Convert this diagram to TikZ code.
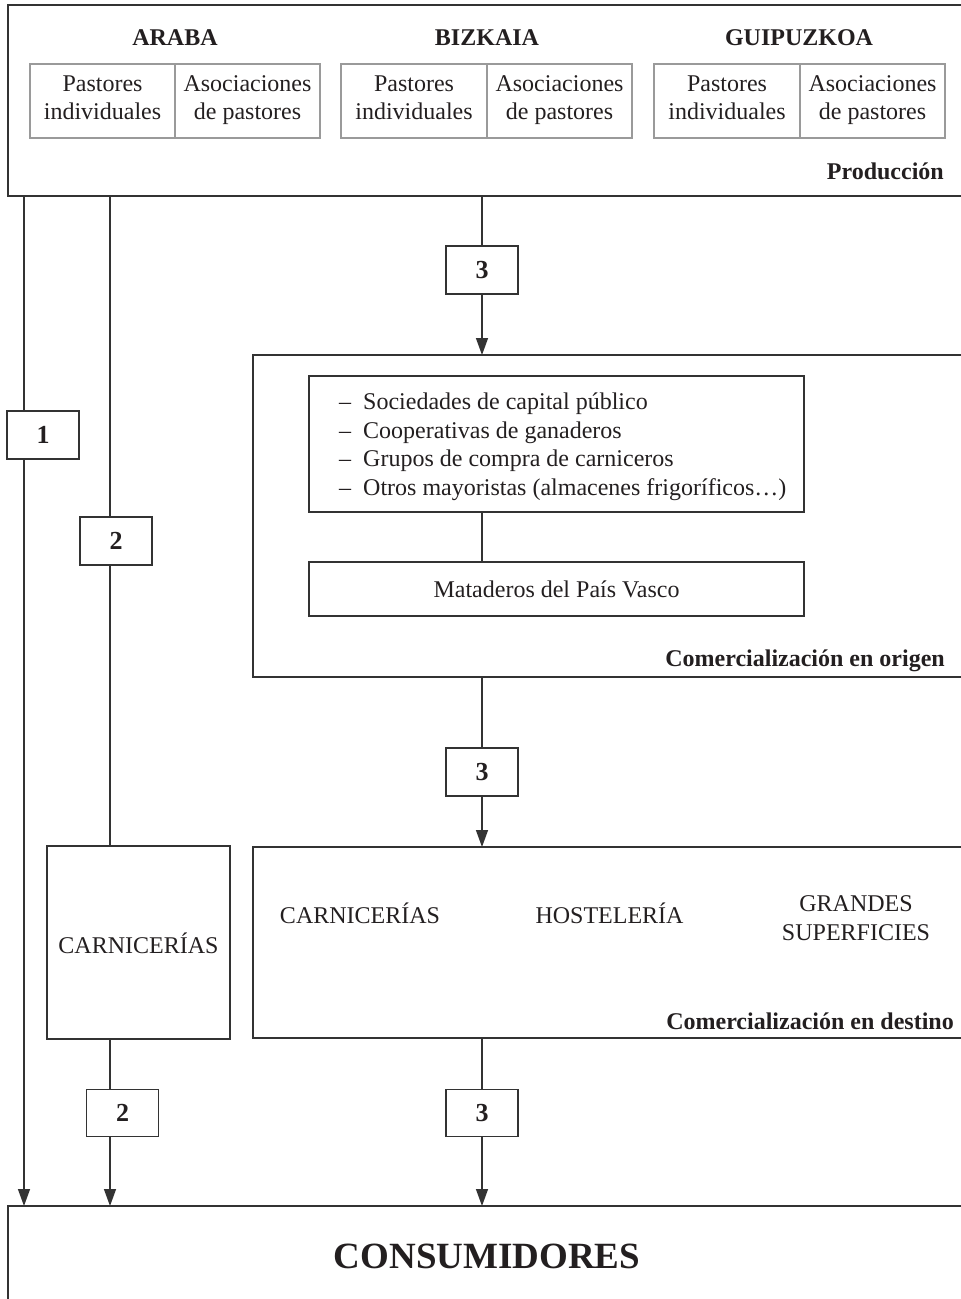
\documentclass[tikz,border=0pt]{standalone}
\usepackage{fontspec}
\setmainfont{Liberation Serif}
\usetikzlibrary{arrows.meta}
\definecolor{ink}{HTML}{231F20}
\definecolor{ln}{HTML}{333333}
\definecolor{lgray}{HTML}{9A9A9A}
\newcommand\myptop{\rule{0pt}{19pt}}
\newcommand\mypbot{\rule[-10.5pt]{0pt}{10.5pt}}
\newcommand\myltop{\rule{0pt}{20pt}}
\newcommand\mylbot{\rule[-8pt]{0pt}{8pt}}
\begin{document}
\begin{tikzpicture}[x=1pt,y=-1pt,
 txt/.style={font=\fontsize{24}{28.5}\selectfont, text=ink},
 btxt/.style={font=\fontsize{24}{28.5}\selectfont\bfseries, text=ink},
 lab/.style={btxt, anchor=east, inner sep=0pt},
 frame/.style={draw=ln, line width=1.4pt, inner sep=0pt, outer sep=0pt, anchor=north west},
 pbox/.style={draw=lgray, line width=1.1pt, inner sep=0pt, outer sep=0pt, minimum height=74pt, align=center, txt},
 nbox/.style={draw=ln, line width=1.4pt, minimum width=72pt, minimum height=48pt, inner sep=0pt, outer sep=0pt, font=\fontsize{26}{30}\selectfont\bfseries, text=ink},
 ibox/.style={draw=ln, line width=1.4pt, inner sep=0pt, outer sep=0pt, txt},
 conn/.style={draw=ln, line width=1.4pt},
 arr/.style={conn, -{Triangle[length=17pt,width=12pt]}}
]
\useasboundingbox (0,0) rectangle (961,1299);
\clip (0,0) rectangle (961,1299);

% Producción
\node[frame, minimum width=990pt, minimum height=191pt] (prod) at (8,5) {};
\node[btxt] (hA) at (175,38) {ARABA};
\node[btxt] (hB) at (487,38) {BIZKAIA};
\node[btxt] (hG) at (799,38) {GUIPUZKOA};
\node[pbox, minimum width=145pt] (a1) at (102.5,101) {\myptop Pastores\\individuales\mypbot};
\node[pbox, minimum width=145pt] (a2) at (247.5,101) {\myptop Asociaciones\\de pastores\mypbot};
\node[pbox, minimum width=146pt] (b1) at (414,101) {\myptop Pastores\\individuales\mypbot};
\node[pbox, minimum width=145pt] (b2) at (559.5,101) {\myptop Asociaciones\\de pastores\mypbot};
\node[pbox, minimum width=146pt] (g1) at (727,101) {\myptop Pastores\\individuales\mypbot};
\node[pbox, minimum width=145pt] (g2) at (872.5,101) {\myptop Asociaciones\\de pastores\mypbot};
\node[lab] (lprod) at (944,171) {Producción};

% Comercialización en origen
\node[frame, minimum width=740pt, minimum height=322pt] (orig) at (253,355) {};
\node[ibox, minimum width=495pt, minimum height=136pt] (list) at (556.5,444) {};
\node[txt, anchor=west, inner sep=0pt, align=left] (listt) at (339,446.5)
 {\myltop\makebox[24pt][l]{–}Sociedades de capital público\\
  \makebox[24pt][l]{–}Cooperativas de ganaderos\\
  \makebox[24pt][l]{–}Grupos de compra de carniceros\\
  \makebox[24pt][l]{–}Otros mayoristas (almacenes frigoríficos…)\mylbot};
\node[ibox, minimum width=495pt, minimum height=54pt] (mat) at (556.5,589) {Mataderos del País Vasco};
\node[lab] (lorig) at (945,661) {Comercialización en origen};

% Comercialización en destino
\node[frame, minimum width=740pt, minimum height=191pt] (dest) at (253,847) {};
\node[txt] (dc) at (360,913) {CARNICERÍAS};
\node[txt] (dh) at (609.5,913) {HOSTELERÍA};
\node[txt, align=center] (dg) at (856,920) {\myltop GRANDES\\SUPERFICIES\mylbot};
\node[lab] (ldest) at (954,1021) {Comercialización en destino};

% Carnicerías (left)
\node[ibox, anchor=north west, minimum width=183pt, minimum height=193pt] (carn) at (47,846) {};
\node[txt] (carnt) at (138.5,943) {CARNICERÍAS};

% Consumidores
\node[frame, minimum width=990pt, minimum height=120pt] (cons) at (8,1206) {};
\node[font=\fontsize{37}{44}\selectfont\bfseries, text=ink] (const) at (487,1256) {CONSUMIDORES};

% Number boxes
\node[nbox] (one) at (43,435) {1};
\node[nbox] (two) at (116,541) {2};
\node[nbox, minimum height=47pt] (twob) at (122.5,1113) {2};
\node[nbox] (threea) at (482,270) {3};
\node[nbox] (threeb) at (482,772) {3};
\node[nbox, minimum height=47pt] (threec) at (482,1113) {3};

% Connectors
\coordinate (x1) at (24,0);
\coordinate (x2) at (110,0);
\coordinate (x3) at (482,0);
\draw[conn] (x1 |- prod.south) -- (x1 |- one.north);
\draw[arr] (x1 |- one.south) -- (x1 |- cons.north);
\draw[conn] (x2 |- prod.south) -- (x2 |- two.north);
\draw[conn] (x2 |- two.south) -- (x2 |- carn.north);
\draw[conn] (x2 |- carn.south) -- (x2 |- twob.north);
\draw[arr] (x2 |- twob.south) -- (x2 |- cons.north);
\draw[conn] (x3 |- prod.south) -- (threea.north);
\draw[arr] (threea.south) -- (x3 |- orig.north);
\draw[conn] (x3 |- list.south) -- (x3 |- mat.north);
\draw[conn] (x3 |- orig.south) -- (threeb.north);
\draw[arr] (threeb.south) -- (x3 |- dest.north);
\draw[conn] (x3 |- dest.south) -- (threec.north);
\draw[arr] (threec.south) -- (x3 |- cons.north);
\end{tikzpicture}
\end{document}
